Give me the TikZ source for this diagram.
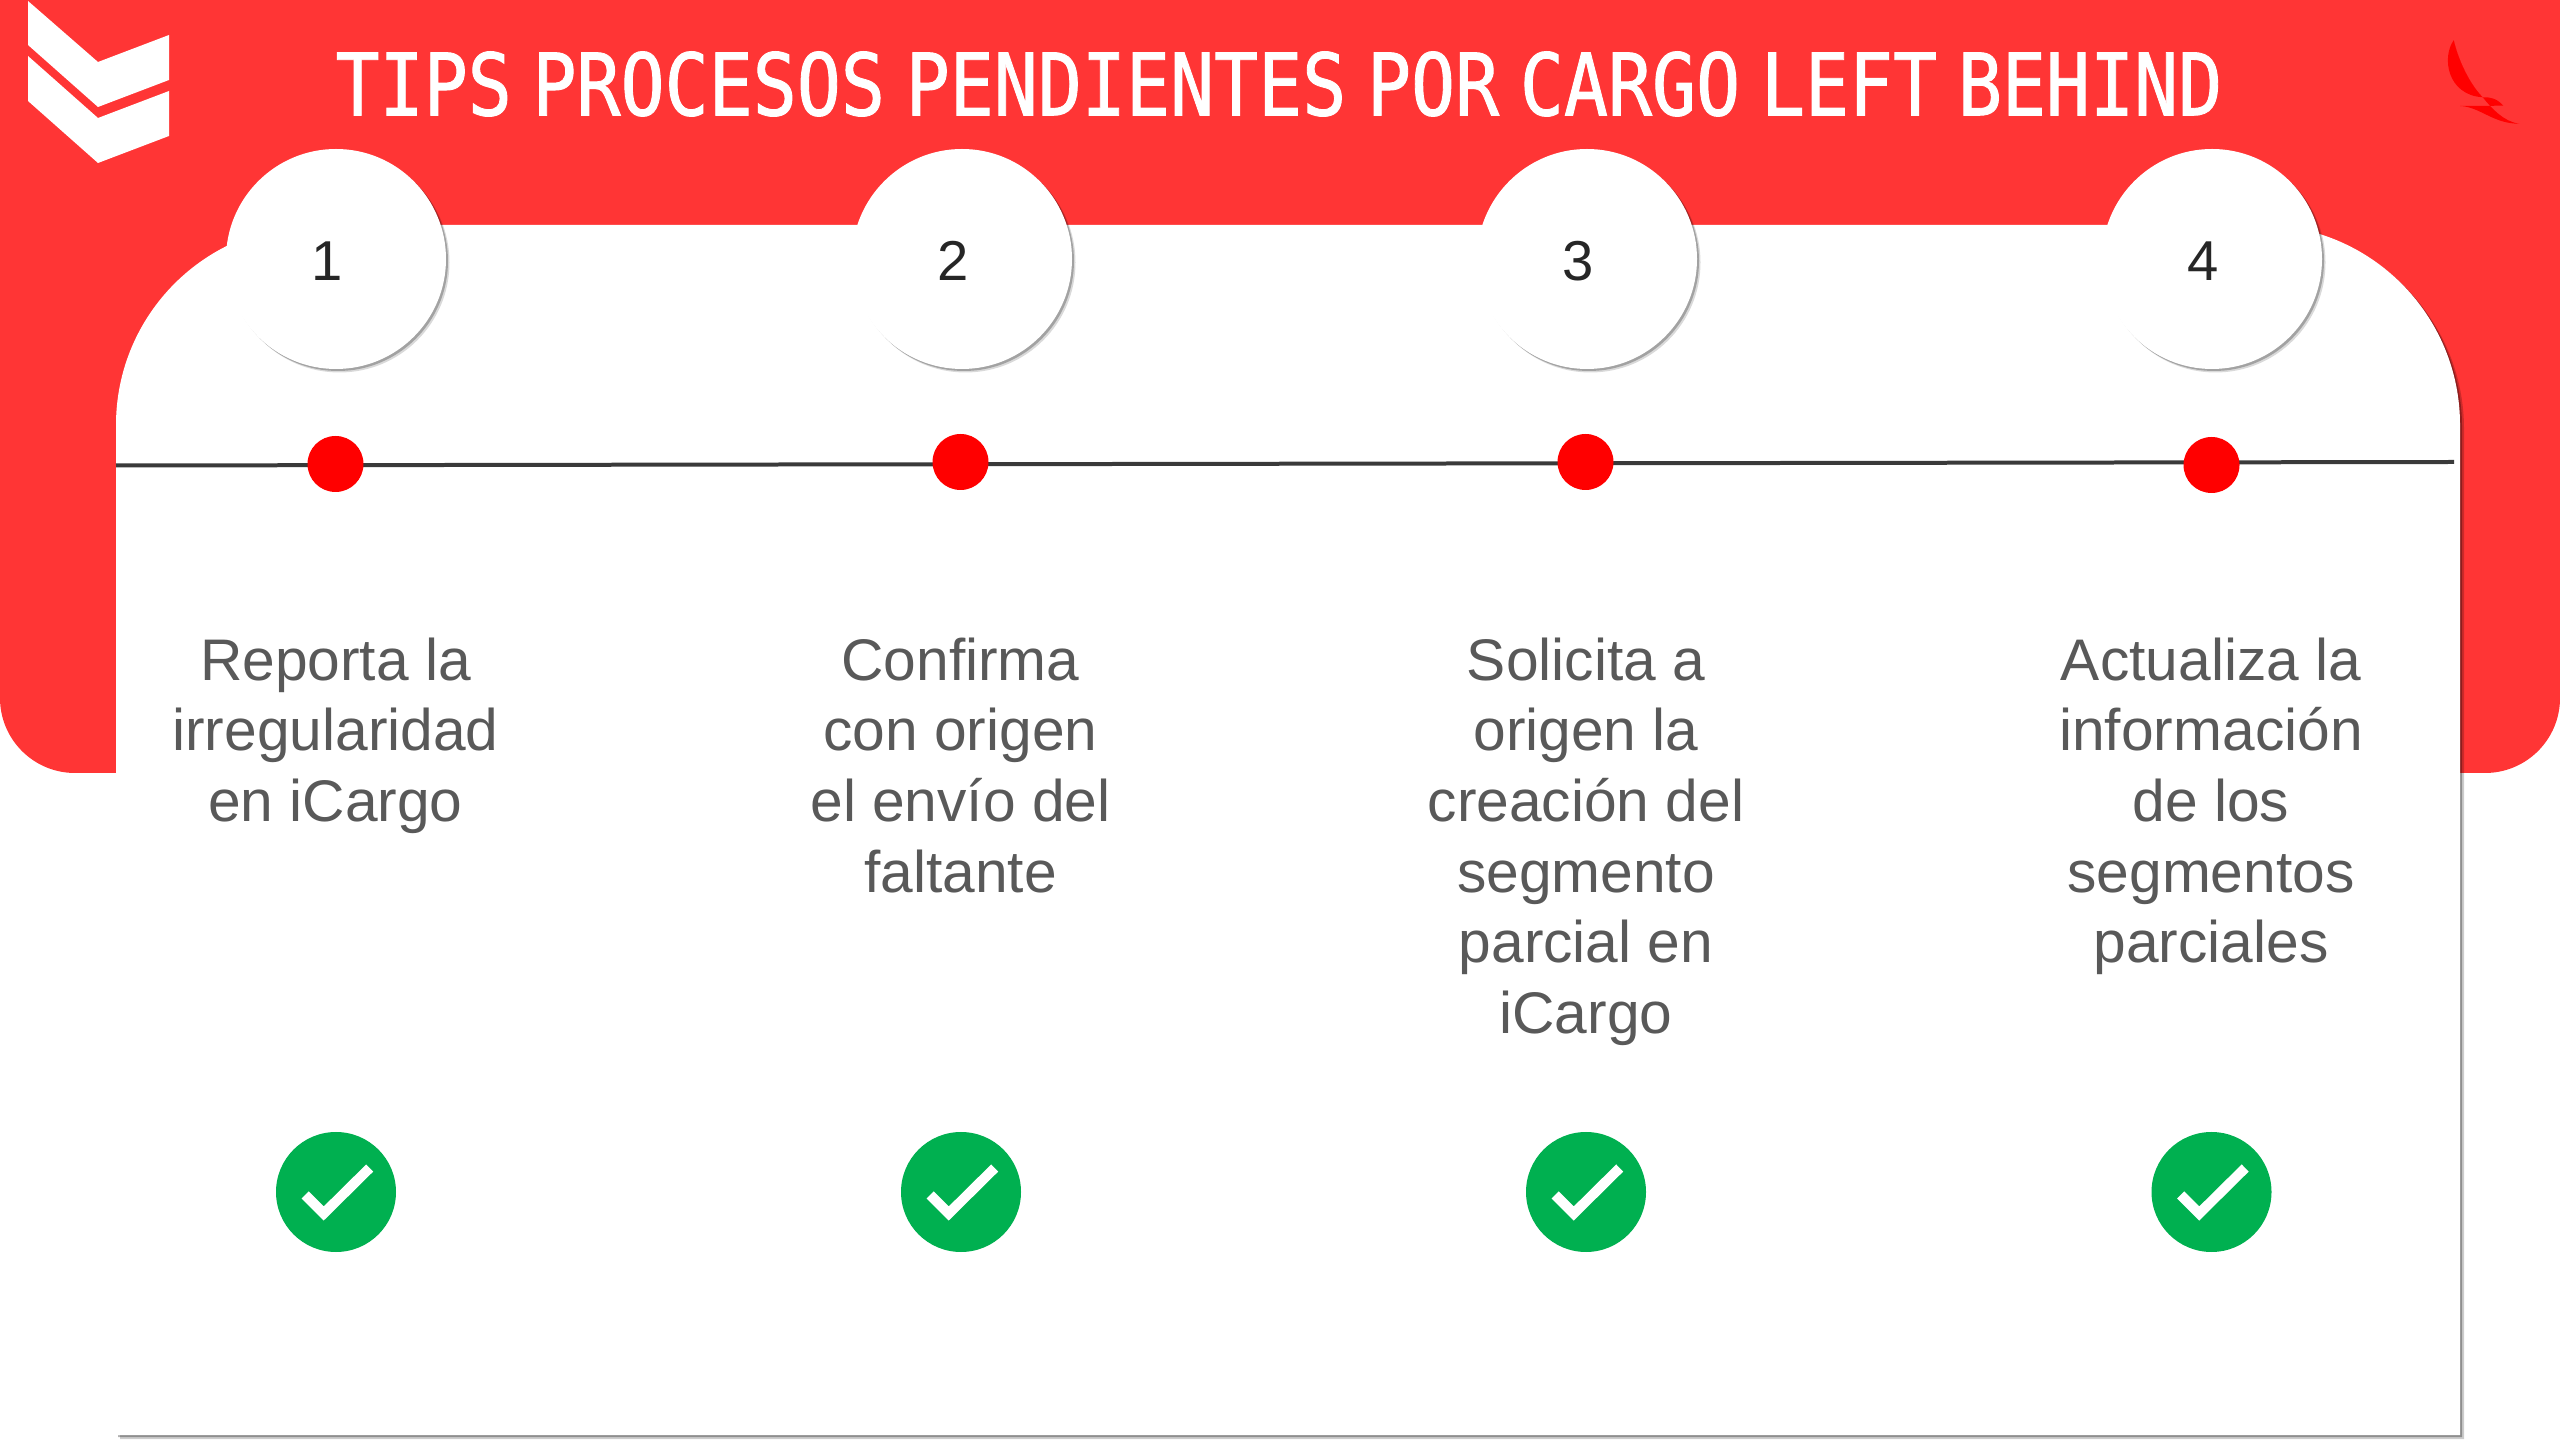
\documentclass[tikz,border=0pt]{standalone}
\usepackage{fontspec}
\usepackage{tikz}
\usetikzlibrary{shadows}
\setmainfont{Liberation Sans}
\newfontfamily\titlefont[FakeStretch=0.85,FakeBold=1,WordSpace=0.47]{DejaVu Sans Mono}
\definecolor{bannerred}{HTML}{FF3535}
\definecolor{checkgreen}{HTML}{00B050}
\definecolor{tiptext}{HTML}{595959}
\definecolor{numtext}{HTML}{262626}
\definecolor{linegray}{HTML}{3A3A3A}

\begin{document}
\begin{tikzpicture}[
    panel/.style={fill=white,
        drop shadow={shadow xshift=0.04cm, shadow yshift=-0.04cm, opacity=0.2, fill=black},
        drop shadow={shadow xshift=0.02cm, shadow yshift=-0.02cm, opacity=0.3, fill=black}},
    numcircle/.style={circle, fill=white, minimum size=2.2cm, inner sep=0pt, text=numtext,
        text height=0.44cm, font=\fontsize{16}{16}\selectfont,
        drop shadow={shadow xshift=0.035cm, shadow yshift=-0.035cm, opacity=0.15, fill=black},
        drop shadow={shadow xshift=0.02cm, shadow yshift=-0.02cm, opacity=0.25, fill=black}},
    reddot/.style={circle, fill=red, minimum size=0.56cm, inner sep=0pt},
    tiptitle/.style={text=white, inner sep=0pt, font=\titlefont\fontsize{24.5}{24.5}\selectfont},
    tipnode/.style={anchor=north, align=center, inner sep=0pt, text=tiptext,
        font=\fontsize{16.7}{20.1}\selectfont},
    checkdot/.style={circle, fill=checkgreen, minimum size=1.2cm, inner sep=0pt,
        path picture={\draw[white, line width=0.1cm, miter limit=10]
            ([shift={(-0.308,-0.03)}]path picture bounding box.center)
            -- ([shift={(-0.123,-0.215)}]path picture bounding box.center)
            -- ([shift={(0.337,0.24)}]path picture bounding box.center);}}]

    % Page
    \useasboundingbox (0,0) rectangle (25.6,14.4);
    \fill[white] (0,0) rectangle (25.6,14.4);

    % Red banner
    \fill[bannerred] (0,14.4) -- (25.6,14.4) [rounded corners=0.75cm] -- (25.6,6.67) -- (0,6.67)
        [sharp corners] -- (0,14.4) -- cycle;

    % White panel
    \path[panel] (1.16,0.05) -- (24.6,0.05) [rounded corners=2cm] -- (24.6,12.15) -- (1.16,12.15)
        [sharp corners] -- (1.16,0.05) -- cycle;

    % Logo on the left
    \fill[white] (0.28,14.39) -- (0.98,13.78) -- (1.69,14.05) -- (1.69,13.6) -- (0.98,13.33) -- (0.28,13.95) -- cycle;
    \fill[white] (0.28,13.84) -- (0.98,13.22) -- (1.69,13.49) -- (1.69,13.04) -- (0.98,12.77) -- (0.28,13.39) -- cycle;

    % Bird on the right
    \fill[red] (24.537,13.997) .. controls (24.417,13.833) and (24.467,13.45) .. (24.827,13.427)
        .. controls (24.733,13.517) and (24.6,13.733) .. (24.537,13.997) -- cycle;
    \fill[red] (24.537,13.997) .. controls (24.6,13.733) and (24.733,13.517) .. (24.827,13.427)
        .. controls (24.917,13.317) and (25.033,13.183) .. (25.193,13.163)
        .. controls (24.933,13.16) and (24.8,13.333) .. (24.6,13.34)
        -- (25.033,13.343) .. controls (24.967,13.417) and (24.9,13.43) .. (24.827,13.427)
        .. controls (24.733,13.517) and (24.6,13.733) .. (24.537,13.997) -- cycle;

    % Title
    \node[tiptitle] (title) at (12.79,13.56) {TIPS PROCESOS PENDIENTES POR CARGO LEFT BEHIND};

    % Numbered circles
    \node[numcircle] (num1) at (3.36,11.81) {1\kern0.18cm};
    \node[numcircle] (num2) at (9.62,11.81) {2\kern0.18cm};
    \node[numcircle] (num3) at (15.87,11.81) {3\kern0.18cm};
    \node[numcircle] (num4) at (22.12,11.81) {4\kern0.18cm};

    % Time line
    \coordinate (lineleft) at (1.16,9.745);
    \coordinate (lineright) at (24.54,9.78);
    \draw[linegray, line width=0.04cm] (lineleft) -- (lineright);
    \node[reddot] (dot1) at (3.355,9.76) {};
    \node[reddot] (dot2) at (9.605,9.78) {};
    \node[reddot] (dot3) at (15.855,9.78) {};
    \node[reddot] (dot4) at (22.115,9.75) {};

    % Tips
    \node[tipnode] (tip1) at (3.355,8.03) {Reporta la\\irregularidad\\en iCargo};
    \node[tipnode] (tip2) at (9.605,8.03) {Confirma\\con origen\\el envío del\\faltante};
    \node[tipnode] (tip3) at (15.86,8.03) {Solicita a\\origen la\\creación del\\segmento\\parcial en\\iCargo};
    \node[tipnode] (tip4) at (22.11,8.03) {Actualiza la\\información\\de los\\segmentos\\parciales};

    % Check marks
    \node[checkdot] (check1) at (3.36,2.48) {};
    \node[checkdot] (check2) at (9.61,2.48) {};
    \node[checkdot] (check3) at (15.86,2.48) {};
    \node[checkdot] (check4) at (22.115,2.48) {};
\end{tikzpicture}
\end{document}
